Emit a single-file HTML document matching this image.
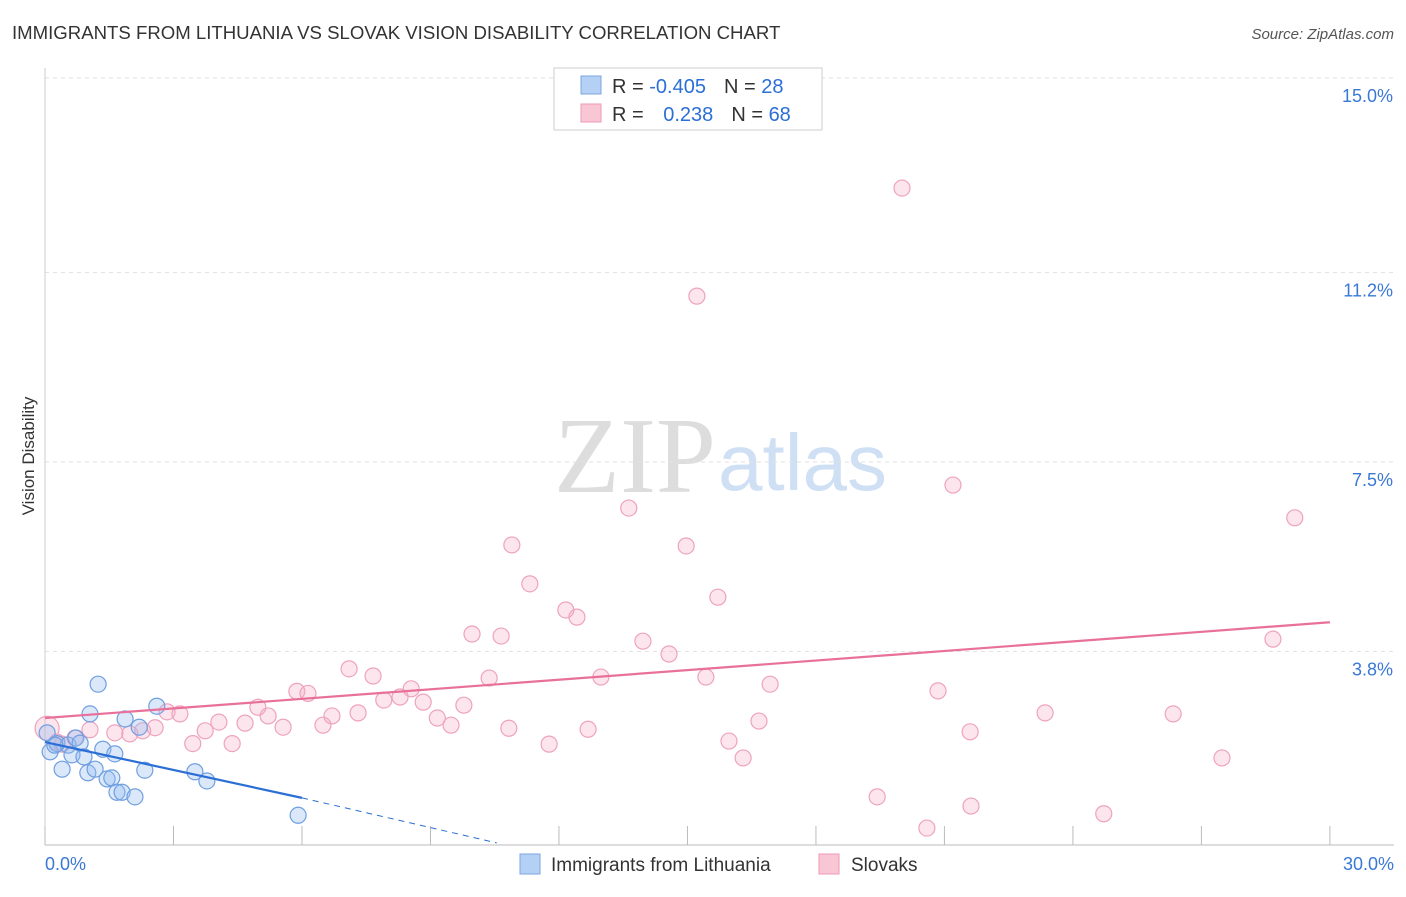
<!DOCTYPE html>
<html><head><meta charset="utf-8"><style>
body{margin:0;background:#fff;font-family:"Liberation Sans",sans-serif}
</style></head><body>
<svg width="1406" height="892" xmlns="http://www.w3.org/2000/svg">
<text x="12" y="39" font-size="18.6" fill="#333">IMMIGRANTS FROM LITHUANIA VS SLOVAK VISION DISABILITY CORRELATION CHART</text>
<text x="1394" y="39" font-size="15" fill="#555" font-style="italic" text-anchor="end">Source: ZipAtlas.com</text>
<text x="34" y="456" font-size="17" fill="#333" transform="rotate(-90 34 456)" text-anchor="middle">Vision Disability</text>
<text x="716" y="492" font-size="108" fill="#ddd" text-anchor="end" font-family="Liberation Serif">ZIP</text>
<text x="718" y="490" font-size="80" fill="#cfe0f5">atlas</text>
<g id="grid"></g><g id="axes"></g><g id="marks"></g>
<g>
<rect x="554" y="68" width="268" height="62" fill="#fff" stroke="#ccc"/>
<rect x="581" y="76" width="20" height="18" fill="#b5d0f5" stroke="#7aa6e0"/>
<rect x="581" y="104" width="20" height="18" fill="#f9c6d6" stroke="#ee9ab6"/>
<text x="612" y="93" font-size="20" fill="#333">R = <tspan fill="#2b6fd6">-0.405</tspan><tspan dx="18">N = </tspan><tspan fill="#2b6fd6">28</tspan></text>
<text x="612" y="121" font-size="20" fill="#333">R = <tspan fill="#2b6fd6" dx="14">0.238</tspan><tspan dx="18">N = </tspan><tspan fill="#2b6fd6">68</tspan></text>
</g>
<g>
<rect x="520" y="854" width="20" height="20" fill="#b5d0f5" stroke="#7aa6e0"/>
<text x="551" y="871" font-size="19" fill="#333">Immigrants from Lithuania</text>
<rect x="819" y="854" width="20" height="20" fill="#f9c6d6" stroke="#ee9ab6"/>
<text x="851" y="871" font-size="19" fill="#333">Slovaks</text>
</g>
</svg>
<script>
const yTicks=[3.8,7.5,11.2,15.0];
const yTickLabels=["3.8%","7.5%","11.2%","15.0%"];
const xTickLabels=["0.0%","30.0%"];
const blueX=[0.05,0.12,0.28,0.4,0.54,0.63,0.72,0.82,0.91,1.0,1.05,1.17,1.24,1.35,1.45,1.56,1.63,1.68,1.8,1.87,2.1,2.2,2.33,2.61,3.5,3.78,5.91,0.23];
const blueY=[2.21,1.84,2.0,1.5,1.97,1.78,2.11,2.01,1.74,1.43,2.58,1.5,3.16,1.89,1.31,1.33,1.8,1.05,1.05,2.48,0.96,2.32,1.48,2.73,1.45,1.27,0.6,1.97];
const pinkX=[0.05,0.28,0.4,0.7,1.05,1.63,1.98,2.28,2.57,2.85,3.15,3.45,3.74,4.06,4.37,4.67,4.97,5.21,5.56,5.88,6.14,6.49,6.7,7.1,7.31,7.66,7.91,8.29,8.55,8.83,9.16,9.48,9.78,9.97,10.37,10.65,10.83,10.9,11.32,11.77,12.16,12.42,12.68,12.98,13.63,13.96,14.57,14.97,15.22,15.43,15.71,15.97,16.3,16.67,16.93,19.43,20.01,20.59,20.85,21.2,21.6,21.62,23.35,24.72,26.34,27.48,28.67,29.18];
const pinkY=[2.3,2.03,1.99,2.11,2.27,2.21,2.19,2.25,2.31,2.62,2.58,2.0,2.25,2.42,2.0,2.4,2.71,2.54,2.32,3.02,2.98,2.36,2.54,3.46,2.6,3.32,2.85,2.91,3.07,2.81,2.5,2.36,2.75,4.14,3.28,4.1,2.3,5.88,5.12,1.99,4.61,4.47,2.28,3.3,6.6,4.0,3.75,5.86,10.74,3.3,4.86,2.05,1.72,2.44,3.16,0.96,12.85,0.35,3.03,7.05,2.23,0.78,2.6,0.63,2.58,1.72,4.04,6.41];
const pinkTrend=[2.5,4.37];
const blueTrend=[2.03,0.94,0.06];
const X=v=>45+v*42.83, Y=v=>846-v*51.2;
const NS="http://www.w3.org/2000/svg";
function mk(t,a,p){const e=document.createElementNS(NS,t);for(const k in a)e.setAttribute(k,a[k]);p.appendChild(e);return e;}
const grid=document.getElementById('grid'),axes=document.getElementById('axes'),marks=document.getElementById('marks');
yTicks.forEach((v,i)=>{
 const l=mk('line',{x1:45,x2:1394,y1:Y(v),y2:Y(v),stroke:'#e2e2e2','stroke-dasharray':'4,4'},grid);
 
 
 const t=mk('text',{x:1393,y:Y(v)+24,'font-size':18,fill:'#3a78d6','text-anchor':'end'},axes);
 t.textContent=yTickLabels[i];
 
 
});
const ax=mk('line',{x1:45,x2:1394,y1:845,y2:845,stroke:'#bbb'},axes);


const ay=mk('line',{x1:45,x2:45,y1:68,y2:845,stroke:'#ccc'},axes);


for(let i=0;i<=10;i++){
 const tk=mk('line',{x1:X(i*3),x2:X(i*3),y1:826,y2:845,stroke:'#bbb'},axes);
 
 
}
[[0,'start',45],[1,'end',1394]].forEach(([i,a,x])=>{
 const t=mk('text',{x:x,y:870,'font-size':18,fill:'#3a78d6','text-anchor':a},axes);
 t.textContent=xTickLabels[i];
 
 
});
pinkX.forEach((x,i)=>{
 const c=mk('circle',{cx:X(x),cy:Y(pinkY[i]),r:i==0?12:8,fill:'rgba(246,170,196,0.3)',stroke:'#eea3bd','stroke-width':1.2},marks);
 
 
});
blueX.forEach((x,i)=>{
 const c=mk('circle',{cx:X(x),cy:Y(blueY[i]),r:8,fill:'rgba(150,190,240,0.35)',stroke:'#6f9fe0','stroke-width':1.2},marks);
 
 
});
const pt=mk('line',{x1:X(0),y1:Y(pinkTrend[0]),x2:X(30),y2:Y(pinkTrend[1]),stroke:'#e8709a','stroke-width':2.2},marks);


const bt=mk('line',{x1:X(0),y1:Y(blueTrend[0]),x2:X(6),y2:Y(blueTrend[1]),stroke:'#2b6fd6','stroke-width':2.2},marks);


const bd=mk('line',{x1:X(6),y1:Y(blueTrend[1]),x2:X(10.55),y2:Y(blueTrend[2]),stroke:'#2b6fd6','stroke-width':1,'stroke-dasharray':'6,5'},marks);


</script>
</body></html>
